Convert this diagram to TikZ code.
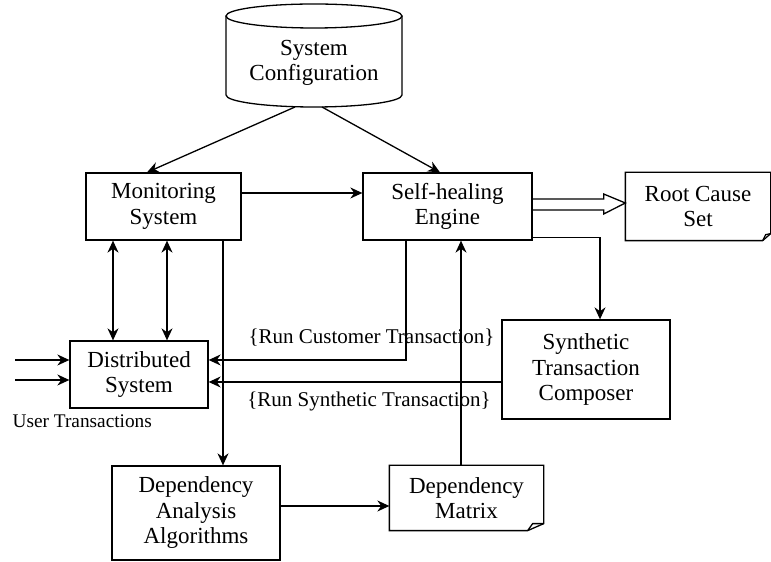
\documentclass[tikz,border=0pt]{standalone}
\usepackage{fontspec}
\setmainfont{Liberation Serif}
\usetikzlibrary{arrows.meta,calc}
\begin{document}
\begin{tikzpicture}[x=1pt,y=1pt,line width=1.3pt,
  boxs/.style={draw,align=center,inner sep=0pt,font=\fontsize{23}{25.5}\selectfont},
  docs/.style={align=center,inner sep=0pt,font=\fontsize{23}{25.5}\selectfont},
  lbl/.style={inner sep=0pt,font=\fontsize{21}{24}\selectfont},
  arr/.style={-{Stealth[length=12pt,width=11pt]}},
  darr/.style={{Stealth[length=12pt,width=11pt]}-{Stealth[length=12pt,width=11pt]}}]
\useasboundingbox (0,0) rectangle (771,562);
% cylinder
\draw (314,546) ellipse [x radius=88, y radius=12];
\draw (226,546) -- (226,467) arc[start angle=180, end angle=360, x radius=88, y radius=12] -- (402,546);
\node[docs] (cfg) at (314,499) {System\\Configuration};
\coordinate (cfgL) at (295,455);
\coordinate (cfgR) at (322,455);
% boxes
\node[boxs,minimum width=155pt,minimum height=67pt] (mon) at (163.5,355.5) {Monitoring\\System};
\node[boxs,minimum width=169pt,minimum height=67pt] (she) at (447.5,355.5) {Self-healing\\Engine};
\node[docs,minimum width=144pt,minimum height=67pt] (rcs) at (698,355.5) {Root Cause\\Set};
\node[boxs,minimum width=168pt,minimum height=99pt] (stc) at (586,192.5) {Synthetic\\Transaction\\Composer};
\node[boxs,minimum width=138pt,minimum height=67pt] (ds) at (139,187.5) {Distributed\\System};
\node[boxs,minimum width=168pt,minimum height=94pt] (daa) at (196,49) {Dependency\\Analysis\\Algorithms};
\node[docs,minimum width=153pt,minimum height=64pt] (dm) at (466.5,64) {Dependency\\Matrix};
% document outlines
\draw (rcs.north west) -- (rcs.north east) -- ([yshift=7pt]rcs.south east) -- ([xshift=-8pt]rcs.south east) -- (rcs.south west) -- cycle;
\draw ([xshift=-8pt]rcs.south east) -- ([xshift=-5pt,yshift=6pt]rcs.south east) -- ([yshift=7pt]rcs.south east);
\draw (dm.north west) -- (dm.north east) -- ([yshift=7pt]dm.south east) -- ([xshift=-16pt]dm.south east) -- (dm.south west) -- cycle;
\draw ([xshift=-16pt]dm.south east) -- ([xshift=-11pt,yshift=7pt]dm.south east) -- ([yshift=7pt]dm.south east);
% labels
\node[lbl] (l1) at (371.5,224) {\{Run Customer Transaction\}};
\node[lbl] (l2) at (369,161) {\{Run Synthetic Transaction\}};
\node[lbl,anchor=west,font=\fontsize{19.3}{22}\selectfont] (ut) at (12,141) {User Transactions};
\coordinate (u1) at (15,202);
\coordinate (u2) at (15,182);
% connectors
\draw[arr] (cfgL) -- ([xshift=-16.5pt]mon.north);
\draw[arr] (cfgR) -- ([xshift=-7.5pt]she.north);
\draw[arr] ([yshift=13.5pt]mon.east) -- ([yshift=13.5pt]she.west);
\draw[line join=miter] ($(she.east)+(0,7.5)$) -- ($(she.east)+(71,7.5)$) -- ($(she.east)+(71,12.5)$) -- ($(rcs.west)+(0,3.5)$) -- ($(she.east)+(71,-7.5)$) -- ($(she.east)+(71,-3.5)$) -- ($(she.east)+(0,-3.5)$);
\draw[arr] ([yshift=3pt]she.south east) -| ([xshift=14pt]stc.north);
\draw[arr] ([xshift=-41.5pt]she.south) |- ([yshift=14.5pt]ds.east);
\draw[arr] ([yshift=-12.5pt]stc.west) -- ([yshift=-7.5pt]ds.east);
\draw[darr] ([xshift=-50.5pt]mon.south) -- ([xshift=-26pt]ds.north);
\draw[darr] ([xshift=3.5pt]mon.south) -- ([xshift=28pt]ds.north);
\draw[arr] ([xshift=59.5pt]mon.south) -- ([xshift=27pt]daa.north);
\draw[arr] ([xshift=-5.5pt]dm.north) -- ([xshift=13.5pt]she.south);
\draw[arr] ([yshift=7pt]daa.east) -- ([yshift=-8pt]dm.west);
\draw[arr] (u1) -- ([yshift=14.5pt]ds.west);
\draw[arr] (u2) -- ([yshift=-5.5pt]ds.west);
\end{tikzpicture}
\end{document}
